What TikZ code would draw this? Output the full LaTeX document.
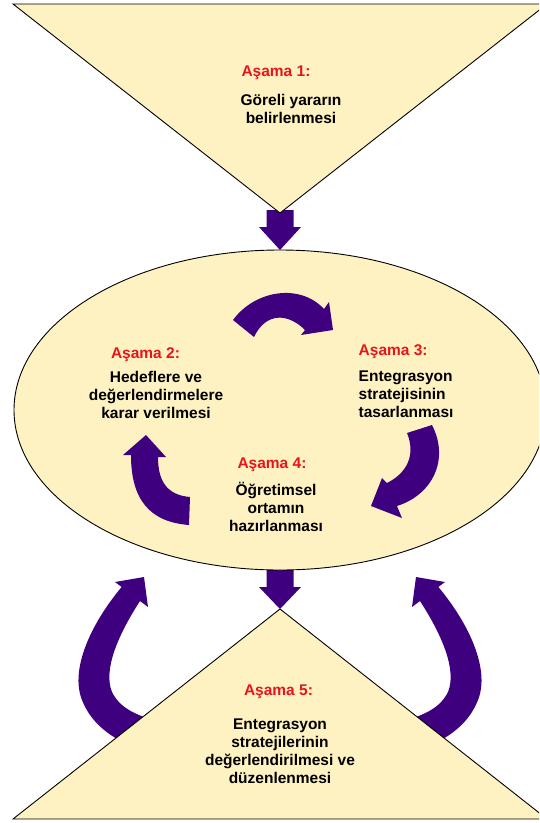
\documentclass[tikz,border=0pt]{standalone}
\usepackage{fontspec}
\setmainfont{Liberation Sans}
\definecolor{cream}{HTML}{FFF2C2}
\definecolor{deeppurple}{HTML}{3F0080}
\definecolor{stagered}{HTML}{E8141B}
\begin{document}
\begin{tikzpicture}[x=1pt, y=-1pt,
  stage/.style={fill=cream, draw=black, line width=0.9pt, line join=miter},
  blockarrow/.style={fill=deeppurple},
  steplabel/.style={text=stagered, font=\bfseries\fontsize{15.5}{18}\selectfont, inner sep=0pt},
  steptext/.style={font=\bfseries\fontsize{15.5}{18}\selectfont, align=center, inner sep=0pt}]
\useasboundingbox (0,0) rectangle (539,823);
\clip (0,0) rectangle (539,823);

% stage 1: downward triangle and the arrow into the ellipse
\fill[blockarrow] (266.5,210) -- (293.5,210) -- (293.5,227) -- (301,227)
  -- (280,250) -- (259,227) -- (266.5,227) -- cycle;
\draw[stage] (13,4) -- (547,4) -- (280,213) -- cycle;
\coordinate (apex1) at (280,213);

% arrow from the ellipse down to stage 5
\fill[blockarrow] (266.5,560) -- (293.5,560) -- (293.5,587) -- (301,587)
  -- (280,609) -- (259,587) -- (266.5,587) -- cycle;

% the cycle of stages 2-4
\draw[stage] (280,410) ellipse [x radius=266pt, y radius=160pt];

% curved arrow 2 -> 3
\fill[blockarrow] (233,320) .. controls (255,290) and (300,283) .. (324,309)
  -- (329,302) -- (333,330) -- (301,335) -- (305,330)
  .. controls (288,313) and (266,312) .. (254,337) -- cycle;
% curved arrow 3 -> 4
\fill[blockarrow] (407,433) -- (432,425) .. controls (450,460) and (432,495) .. (397,506)
  -- (402,518) -- (371,506) -- (382,478) -- (387,483)
  .. controls (407,473) and (416,455) .. (407,433) -- cycle;
% curved arrow 4 -> 2
\fill[blockarrow] (190,497) .. controls (166,495) and (158,480) .. (158,457)
  -- (166,457) -- (146,435) -- (123,455) -- (131,455)
  .. controls (131,500) and (150,522) .. (189,525) -- cycle;

% feedback arrows from stage 5 back up to the ellipse
\tikzset{feedback/.pic={
  \fill[blockarrow] (121.6,587) -- (115,582) -- (144,577) -- (148,607) -- (140,601)
    .. controls (118,635) and (103,670) .. (112,692)
    .. controls (120,708) and (135,715) .. (160,722)
    -- (135,748)
    .. controls (105,735) and (90,720) .. (82,700)
    .. controls (70,670) and (90,625) .. (121.6,587) -- cycle;
}}
\pic at (0,0) {feedback};
\pic[xscale=-1] at (560,0) {feedback};

% stage 5: upward triangle
\draw[stage] (280,609) -- (547,819) -- (13,819) -- cycle;

% texts (a multi-line node's base is the baseline of its last line)
\node[steplabel, anchor=base] (s1) at (276,76) {Aşama 1:};
\node[steptext, anchor=base] (t1) at (291,123) {Göreli yararın\\belirlenmesi};

\node[steplabel, anchor=base] (s2) at (145.5,358) {Aşama 2:};
\node[steptext, anchor=base] (t2) at (156,418) {Hedeflere ve\\değerlendirmelere\\karar verilmesi};

\node[steplabel, anchor=base west] (s3) at (358.5,355) {Aşama 3:};
\node[steptext, align=left, anchor=base west] (t3) at (358.5,417) {Entegrasyon\\stratejisinin\\tasarlanması};

\node[steplabel, anchor=base] (s4) at (272,468) {Aşama 4:};
\node[steptext, anchor=base] (t4) at (276,531) {Öğretimsel\\ortamın\\hazırlanması};

\node[steplabel, anchor=base] (s5) at (278.5,695) {Aşama 5:};
\node[steptext, anchor=base] (t5) at (280,783) {Entegrasyon\\stratejilerinin\\değerlendirilmesi ve\\düzenlenmesi};
\end{tikzpicture}
\end{document}
